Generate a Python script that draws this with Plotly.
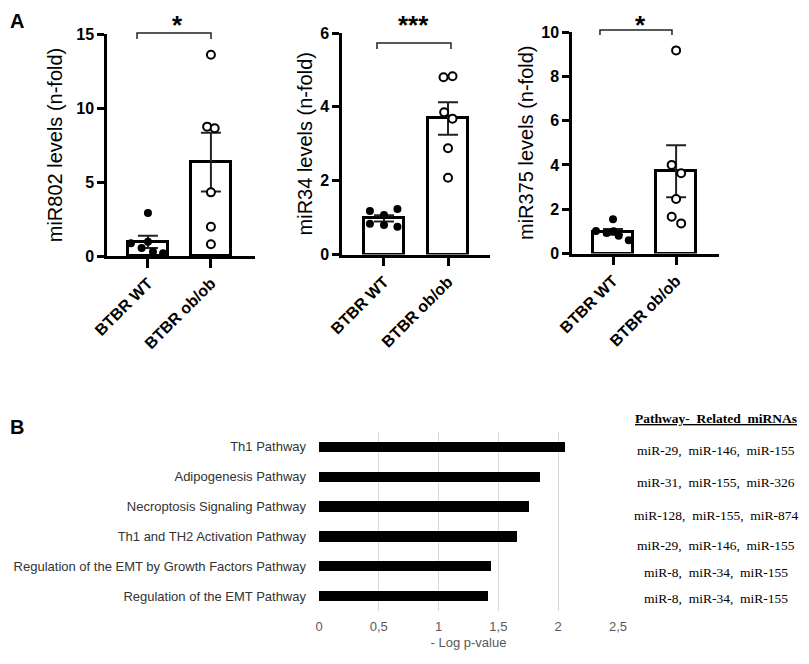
import numpy as np
import plotly.graph_objects as go

# the page puts the plot 8px in from the top-left corner; the figure is kept
# inside the window and every reference pixel position is shifted by OFF
OFF = 8
W, H = 809 - 2 * OFF, 664 - 2 * OFF

# ---- panel A data (n-fold) ----
groups = ["BTBR WT", "BTBR ob/ob"]
mir802_wt = [2.9, 0.86, 0.54, 0.97, 0.29, 0.18]
mir802_ob = [13.6, 8.74, 8.63, 4.3, 1.98, 0.79]
mir34_wt = [1.18, 1.07, 1.23, 0.83, 0.80, 0.75]
mir34_ob = [4.80, 4.83, 3.85, 3.68, 2.88, 2.08]
mir375_wt = [1.55, 1.02, 0.92, 1.00, 0.80, 0.60]
mir375_ob = [9.17, 4.00, 3.62, 2.46, 1.66, 1.36]
stars = ["*", "***", "*"]

# ---- panel B data ----
pathways = [
    "Th1 Pathway",
    "Adipogenesis Pathway",
    "Necroptosis Signaling Pathway",
    "Th1 and TH2 Activation Pathway",
    "Regulation of the EMT by Growth Factors Pathway",
    "Regulation of the EMT Pathway",
]
neg_log_p = [2.06, 1.85, 1.755, 1.657, 1.44, 1.415]
related_mirnas = [
    "miR-29,  miR-146,  miR-155",
    "miR-31,  miR-155,  miR-326",
    "miR-128,  miR-155,  miR-874",
    "miR-29,  miR-146,  miR-155",
    "miR-8,  miR-34,  miR-155",
    "miR-8,  miR-34,  miR-155",
]
table_header = "Pathway-  Related  miRNAs"

# horizontal spread of the dots (display only)
jitter = {
    "802": ([0, -0.27, -0.1, 0, 0.08, 0.24], [0, -0.06, 0.06, 0, 0, 0]),
    "34": ([-0.22, 0, 0.21, -0.22, 0, 0.21], [-0.07, 0.07, -0.06, 0.07, 0, 0]),
    "375": ([0, -0.27, -0.1, 0.01, 0.09, 0.25], [0, -0.07, 0.08, 0, -0.07, 0.08]),
}

SANS = "Liberation Sans"
SERIF = "Liberation Serif"


def px(x, y):
    # reference pixel -> paper coords
    return (x - OFF) / W, 1 - (y - OFF) / H


def sem(v):
    v = np.asarray(v)
    return v.std(ddof=1) / np.sqrt(len(v))


fig = go.Figure()

panels = [
    ("802", mir802_wt, mir802_ob, "miR802 levels (n-fold)", 15, 5, 9,
     (107, 255), (256, 34), (-0.65, 1.70)),
    ("34", mir34_wt, mir34_ob, "miR34 levels (n-fold)", 6, 2, 3,
     (342, 490), (254.5, 33), (-0.656, 1.656)),
    ("375", mir375_wt, mir375_ob, "miR375 levels (n-fold)", 10, 2, 3,
     (572, 719), (253.5, 32), (-0.65, 1.68)),
]

for i, (key, wt, ob, title, ymax, dt, stand, xdom, ydom, xr) in enumerate(panels):
    n = "" if i == 0 else str(i + 1)
    xa, ya = "x" + n, "y" + n
    means = [np.mean(wt), np.mean(ob)]
    errs = [sem(wt), sem(ob)]
    fig.add_trace(go.Bar(
        x=[0, 1], y=means, width=0.64, xaxis=xa, yaxis=ya,
        marker=dict(color="white", line=dict(color="black", width=3)),
        error_y=dict(type="data", array=errs, color="#222", thickness=2, width=10),
        showlegend=False, hoverinfo="skip",
    ))
    jw, jo = jitter[key]
    fig.add_trace(go.Scatter(
        x=jw, y=wt, mode="markers", xaxis=xa, yaxis=ya,
        marker=dict(color="black", size=8), showlegend=False, cliponaxis=False,
    ))
    fig.add_trace(go.Scatter(
        x=[1 + j for j in jo], y=ob, mode="markers", xaxis=xa, yaxis=ya,
        marker=dict(color="white", size=8, line=dict(color="black", width=2)),
        showlegend=False, cliponaxis=False,
    ))
    x0, y0 = px(xdom[0], ydom[0])
    x1, y1 = px(xdom[1], ydom[1])
    fig.layout["xaxis" + n] = dict(
        domain=[x0, x1], range=list(xr), anchor=ya,
        tickvals=[0, 1], ticktext=groups, tickangle=-45,
        tickfont=dict(family=SANS, size=16, color="black", weight="bold"),
        showline=True, linecolor="black", linewidth=2.5,
        ticks="outside", ticklen=9, tickwidth=2.5, tickcolor="black",
        showgrid=False, zeroline=False, automargin=False, fixedrange=True,
    )
    fig.layout["yaxis" + n] = dict(
        domain=[y0, y1], range=[0, ymax], dtick=dt, anchor=xa,
        tickfont=dict(family=SANS, size=16, color="black", weight="bold"),
        title=dict(text=title, font=dict(family=SANS, size=20, color="black"),
                   standoff=stand),
        showline=True, linecolor="black", linewidth=2.5,
        ticks="outside", ticklen=7, tickwidth=2.5, tickcolor="black",
        showgrid=False, zeroline=False, automargin=False, fixedrange=True,
    )

# significance brackets (pixel positions of the bracket lines, star x)
brackets = [((137, 211), 33, 39, 177), ((377, 451), 43, 49, 413),
            ((600, 672), 30, 35, 640)]
shapes = []
annotations = []
for k, ((bx0, bx1), by, bdrop, sx) in enumerate(brackets):
    pts = [px(bx0, bdrop), px(bx0, by), px(bx1, by), px(bx1, bdrop)]
    path = "M " + " L ".join(f"{a:.4f},{b:.4f}" for a, b in pts)
    shapes.append(dict(type="path", path=path, xref="paper", yref="paper",
                       line=dict(color="#222", width=1.5)))
    annotations.append(dict(text=stars[k], x=px(sx, 0)[0], y=1, xref="paper",
                            yref="paper", xanchor="center", yanchor="top",
                            showarrow=False,
                            font=dict(family=SANS, size=26, color="black",
                                      weight="bold")))

# ---- panel B ----
fig.add_trace(go.Bar(
    x=neg_log_p, y=pathways, orientation="h", width=0.35,
    marker=dict(color="black", line=dict(width=0)),
    xaxis="x4", yaxis="y4", showlegend=False,
))
bx0, by0 = px(319, 611)
bx1, by1 = px(618, 432)
fig.layout["xaxis4"] = dict(
    domain=[bx0, bx1], range=[0, 2.5], dtick=0.5, anchor="y4",
    showgrid=True, gridcolor="#d9d9d9", gridwidth=1, zeroline=False,
    showline=False, ticks="", ticklabelstandoff=6,
    tickfont=dict(family=SANS, size=13, color="#595959"),
    title=dict(text="- Log p-value", font=dict(family=SANS, size=13, color="#595959"),
               standoff=4),
    automargin=False, fixedrange=True,
)
fig.layout["yaxis4"] = dict(
    domain=[by0, by1], type="category",
    categoryorder="array", categoryarray=pathways, range=[5.5, -0.5],
    anchor="x4", showgrid=False, zeroline=False, showline=False, ticks="",
    ticklabelstandoff=12,
    tickfont=dict(family=SANS, size=13, color="#333333"),
    automargin=False, fixedrange=True,
)

nb = "\u00a0"
hx, hy = px(716, 418)
annotations.append(dict(text="<b><u>" + table_header.replace(" ", nb) + "</u></b>",
                        x=hx, y=hy, xref="paper", yref="paper", showarrow=False,
                        xanchor="center", yanchor="middle",
                        font=dict(family=SERIF, size=13.5, color="black")))
row_y = [450, 482, 515, 545, 572, 598]
for txt, ry in zip(related_mirnas, row_y):
    rx, ryp = px(716, ry)
    annotations.append(dict(text=txt.replace(" ", nb), x=rx, y=ryp,
                            xref="paper", yref="paper", showarrow=False,
                            xanchor="center", yanchor="middle",
                            font=dict(family=SERIF, size=13.5, color="black")))

# panel letters
annotations.append(dict(text="<b>A</b>", x=0, y=1, xref="paper", yref="paper",
                        showarrow=False, xanchor="left", yanchor="top",
                        font=dict(family=SANS, size=20, color="black")))
annotations.append(dict(text="<b>B</b>", x=0, y=px(0, 427)[1], xref="paper",
                        yref="paper", showarrow=False, xanchor="left",
                        yanchor="middle",
                        font=dict(family=SANS, size=20, color="black")))

fig.update_layout(
    width=W, height=H, template="none",
    margin=dict(l=0, r=0, t=0, b=0),
    paper_bgcolor="white", plot_bgcolor="rgba(0,0,0,0)",
    separators=",.", bargap=0,
    font=dict(family=SANS, color="black"),
    shapes=shapes, annotations=annotations, showlegend=False,
)

fig.write_html("out.html")
